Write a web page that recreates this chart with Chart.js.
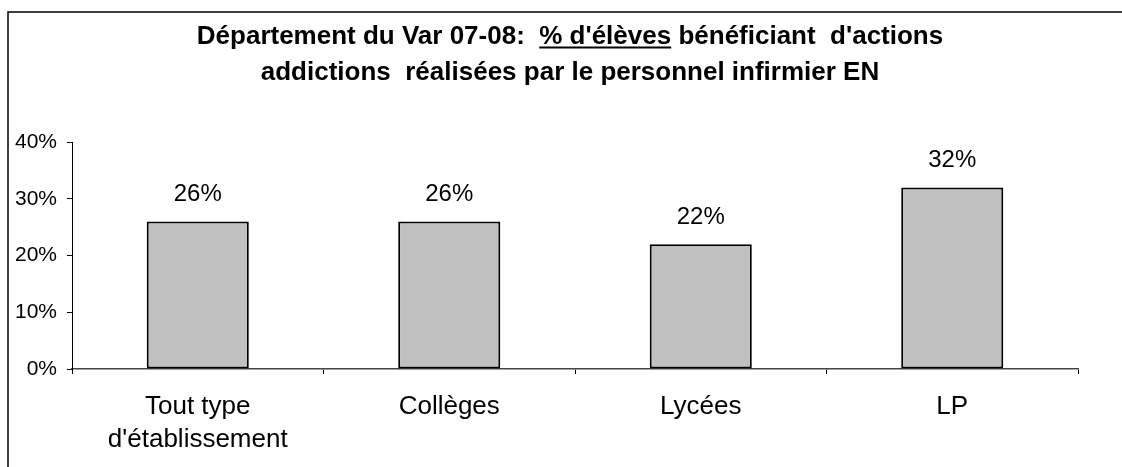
<!DOCTYPE html>
<html lang="fr">
<head>
<meta charset="UTF-8">
<title>Département du Var 07-08</title>
<script src="https://cdn.jsdelivr.net/npm/chart.js"></script>
<style>
  html, body { margin: 0; padding: 0; background: #fff; }
  #chart { display: block; }
</style>
</head>
<body>
<canvas id="chart" width="1122" height="467"></canvas>
<script>
// data
const categories = [['Tout type', "d'établissement"], ['Collèges'], ['Lycées'], ['LP']];
const values = [26, 26, 22, 32];
const yTicks = [0, 10, 20, 30, 40];
const titleLine1 = ['Département du Var 07-08:  ', "% d'élèves", ' bénéficiant  d\'actions'];
const titleLine2 = 'addictions  réalisées par le personnel infirmier EN';

const FONT = '"Liberation Sans", Arial, sans-serif';

// outer frame (only top and left edges are visible in the window)
const framePlugin = {
  id: 'frame',
  beforeDraw(chart) {
    const ctx = chart.ctx;
    ctx.save();
    ctx.strokeStyle = '#000';
    ctx.lineWidth = 1.5;
    ctx.beginPath();
    ctx.moveTo(8, 467);
    ctx.lineTo(8, 12);
    ctx.lineTo(1122, 12);
    ctx.stroke();
    ctx.restore();
  }
};

// two line title, part of first line underlined
const titlePlugin = {
  id: 'ulTitle',
  afterDraw(chart) {
    const ctx = chart.ctx;
    const cx = 570;
    ctx.save();
    ctx.font = 'bold 26px ' + FONT;
    ctx.fillStyle = '#000';
    ctx.textBaseline = 'alphabetic';
    ctx.textAlign = 'left';
    const widths = titleLine1.map(t => ctx.measureText(t).width);
    let x = cx - widths.reduce((a, b) => a + b, 0) / 2;
    titleLine1.forEach((t, i) => {
      ctx.fillText(t, x, 44);
      if (i === 1) {
        ctx.fillRect(x, 46.5, widths[i], 2);
      }
      x += widths[i];
    });
    ctx.textAlign = 'center';
    ctx.fillText(titleLine2, cx, 80);
    ctx.restore();
  }
};

// value labels above bars
const valueLabels = {
  id: 'valueLabels',
  afterDatasetsDraw(chart) {
    const ctx = chart.ctx;
    const meta = chart.getDatasetMeta(0);
    ctx.save();
    ctx.font = '24px ' + FONT;
    ctx.fillStyle = '#000';
    ctx.textAlign = 'center';
    ctx.textBaseline = 'middle';
    meta.data.forEach((bar, i) => {
      ctx.fillText(values[i] + '%', bar.x, bar.y - 27);
    });
    ctx.restore();
  }
};

new Chart(document.getElementById('chart'), {
  type: 'bar',
  data: {
    labels: categories,
    datasets: [{
      data: values,
      backgroundColor: '#c0c0c0',
      borderColor: '#000',
      borderWidth: 2,
      borderSkipped: false,
      barPercentage: 0.406,
      categoryPercentage: 1
    }]
  },
  options: {
    responsive: false,
    animation: false,
    layout: { padding: { left: 0, right: 44, top: 142, bottom: 0 } },
    plugins: {
      legend: { display: false },
      title: { display: false },
      tooltip: { enabled: false }
    },
    scales: {
      x: {
        afterFit: s => { s.height = 98; },
        grid: { display: true, drawOnChartArea: false, drawTicks: true, tickLength: 5, color: '#000', offset: true },
        border: { color: '#444', width: 1.5 },
        ticks: { color: '#000', font: { family: FONT, size: 26, lineHeight: 1.25 }, padding: 17, maxRotation: 0 }
      },
      y: {
        min: 0,
        max: 40,
        afterFit: s => { s.width = 72; },
        afterBuildTicks: s => { s.ticks = yTicks.map(v => ({ value: v })); },
        grid: { display: true, drawOnChartArea: false, drawTicks: true, tickLength: 5, color: '#000' },
        border: { color: '#000', width: 1 },
        ticks: { color: '#000', font: { family: FONT, size: 21 }, padding: 10, callback: v => v + '%' }
      }
    }
  },
  plugins: [framePlugin, titlePlugin, valueLabels]
});
</script>
</body>
</html>
